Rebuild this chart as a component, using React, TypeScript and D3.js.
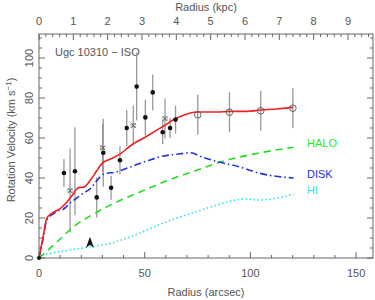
import React, { useEffect, useRef } from 'react';
import * as d3 from 'd3';

// model curves, [radius arcsec, velocity km/s]
const totalCurve = [[0,0],[2,11],[3.6,19.7],[5,21.5],[6.8,22.9],[9.9,24.6],[13.1,27.9],[16.2,32],[17.8,34.5],[19.4,35.3],[21,35.4],[24.1,38.6],[27.3,43.6],[29.7,47.2],[33.6,49.4],[38.3,51.9],[43.1,56],[51,60.9],[58.8,65.9],[65.2,70],[71.5,72.5],[74.6,73],[84.1,73],[90.4,73.3],[98.3,73.3],[104.9,74],[112.5,74.5],[120.1,75.3]];
const diskCurve = [[0,0],[2,10],[3.6,18.8],[6.8,22.1],[9.9,24],[11.5,24.4],[14.7,27.5],[16.2,28.7],[19.4,31.2],[21,32.5],[24.1,34.5],[27.3,38.6],[30.4,41.9],[36.8,43.1],[43.1,45.5],[51,48.5],[58.8,51],[65.2,51.9],[71.5,52.6],[77.8,50.2],[83.3,48.5],[95,45.5],[104.6,42.3],[120.4,40]];
const haloCurve = [[0,0],[5.2,4.8],[10,9.5],[16.2,15.5],[27.3,22.9],[38.3,28.7],[49.4,33.7],[60.4,38.6],[75,44],[88.8,48.9],[104.6,52.6],[120.4,55.4]];
const hiCurve = [[0,0],[2,1.5],[5.2,2.3],[14.7,4],[24.1,5.6],[33.6,7.3],[43.1,10.5],[52.5,14.7],[62,18.8],[71.5,22.1],[80.9,25.4],[90.4,28.3],[97,29.5],[104.6,29],[110,29.5],[120.4,32]];

// observed points [radius, velocity, error]
const filledPts = [[11.8,42.5,7],[17,43.4,22],[27.3,30.3,10],[30.4,52.6,17],[34.1,35.1,6],[38.3,48.9,7],[41.5,65,9],[46.2,85.7,17],[50.3,70.3,9],[53.8,82.8,9],[58.5,62.9,6],[62,65,5],[64.6,69.2,7]];
const crossPts = [[14.7,33.7,21],[30.1,55.1,12],[44.6,66.3,10],[59.6,69.7,10]];
const openPts = [[75.1,71.6,10],[90.1,72.9,10],[104.9,73.6,10],[120.1,74.9,10]];

const arcTicks = [0, 50, 100, 150];
const kpcTicks = [0, 1, 2, 3, 4, 5, 6, 7, 8, 9];
const velTicks = [0, 20, 40, 60, 80, 100];
const arrowAt = 24.1;

const App = () => {
    const ref = useRef(null);

    const graph = () => {
        const svgCanvas = d3.select(ref.current);
        svgCanvas.selectAll('*').remove();

        const left = 39, right = 373, top = 34, bottom = 258;
        const x = d3.scaleLinear().domain([0, 158]).range([left, right]);
        const k = d3.scaleLinear().domain([0, (right - left) / 34.33]).range([left, right]);
        const y = d3.scaleLinear().domain([0, 112]).range([bottom, top]);
        const font = "'Liberation Sans', Arial, sans-serif";
        const axisCol = '#666';
        const txtCol = '#555';

        // frame
        svgCanvas.append('rect')
            .attr('x', left).attr('y', top)
            .attr('width', right - left).attr('height', bottom - top)
            .attr('fill', 'none').attr('stroke', axisCol).attr('stroke-width', 1);

        const g = svgCanvas.append('g').attr('stroke', axisCol).attr('stroke-width', 1);
        // bottom ticks
        d3.range(0, 158, 10).forEach(v => {
            const len = v % 50 === 0 ? 6 : 3;
            g.append('line').attr('x1', x(v)).attr('x2', x(v)).attr('y1', bottom).attr('y2', bottom - len);
        });
        // top ticks (kpc)
        d3.range(0, 9.8, 0.2).forEach(v => {
            const major = Math.abs(v - Math.round(v)) < 0.01;
            g.append('line').attr('x1', k(v)).attr('x2', k(v)).attr('y1', top).attr('y2', top + (major ? 6 : 3));
        });
        // left / right ticks
        d3.range(0, 112, 5).forEach(v => {
            const len = v % 20 === 0 ? 6 : 3;
            g.append('line').attr('x1', left).attr('x2', left + len).attr('y1', y(v)).attr('y2', y(v));
            g.append('line').attr('x1', right).attr('x2', right - len).attr('y1', y(v)).attr('y2', y(v));
        });

        const txt = svgCanvas.append('g')
            .style('font-family', font).style('font-size', '11px').style('fill', txtCol);

        txt.selectAll('text.xt').data(arcTicks).enter().append('text')
            .attr('x', d => x(d)).attr('y', 277).attr('text-anchor', 'middle').text(d => d);
        txt.selectAll('text.kt').data(kpcTicks).enter().append('text')
            .attr('x', d => k(d)).attr('y', 25).attr('text-anchor', 'middle').text(d => d);
        txt.selectAll('text.yt').data(velTicks).enter().append('text')
            .attr('transform', d => `translate(33,${y(d)}) rotate(-90)`)
            .attr('text-anchor', 'middle').text(d => d);

        txt.append('text').attr('x', 206).attr('y', 296).attr('text-anchor', 'middle').text('Radius (arcsec)');
        txt.append('text').attr('x', 206).attr('y', 11).attr('text-anchor', 'middle').text('Radius (kpc)');
        const yl = txt.append('text').attr('transform', 'translate(15,140) rotate(-90)').attr('text-anchor', 'middle');
        yl.append('tspan').text('Rotation Velocity (km s');
        yl.append('tspan').attr('dy', -4).style('font-size', '8px').text('−1');
        yl.append('tspan').attr('dy', 4).text(')');
        txt.append('text').attr('x', 55).attr('y', 56).text('Ugc 10310 − ISO');

        // error bars
        const allPts = filledPts.concat(crossPts, openPts);
        svgCanvas.append('g').selectAll('line').data(allPts).enter().append('line')
            .attr('x1', d => x(d[0])).attr('x2', d => x(d[0]))
            .attr('y1', d => y(d[1] - d[2])).attr('y2', d => y(d[1] + d[2]))
            .attr('stroke', '#999').attr('stroke-width', 1.3);

        // model curves
        const line = d3.line().x(d => x(d[0])).y(d => y(d[1])).curve(d3.curveMonotoneX);
        const curves = [
            { data: hiCurve, color: '#33e0e8', dash: '1.5,2.5', w: 1.6 },
            { data: haloCurve, color: '#22dd22', dash: '7,5', w: 1.6 },
            { data: diskCurve, color: '#2233dd', dash: '7,3,1.5,3', w: 1.6 },
            { data: totalCurve, color: '#ee2222', dash: null, w: 1.6 },
        ];
        curves.forEach(c => {
            svgCanvas.append('path').attr('d', line(c.data))
                .attr('fill', 'none').attr('stroke', c.color).attr('stroke-width', c.w)
                .attr('stroke-dasharray', c.dash);
        });

        // points
        svgCanvas.append('g').selectAll('circle').data(filledPts).enter().append('circle')
            .attr('cx', d => x(d[0])).attr('cy', d => y(d[1])).attr('r', 2.3).attr('fill', '#111');
        svgCanvas.append('g').selectAll('circle').data(openPts).enter().append('circle')
            .attr('cx', d => x(d[0])).attr('cy', d => y(d[1])).attr('r', 3.3)
            .attr('fill', 'none').attr('stroke', '#555').attr('stroke-width', 0.9);
        const cr = svgCanvas.append('g').attr('stroke', '#444').attr('stroke-width', 0.9);
        crossPts.forEach(d => {
            const cx = x(d[0]), cy = y(d[1]);
            cr.append('circle').attr('cx', cx).attr('cy', cy).attr('r', 2.5).attr('fill', 'none').attr('stroke', '#aaa');
            cr.append('line').attr('x1', cx - 2.2).attr('x2', cx + 2.2).attr('y1', cy - 2.2).attr('y2', cy + 2.2);
            cr.append('line').attr('x1', cx - 2.2).attr('x2', cx + 2.2).attr('y1', cy + 2.2).attr('y2', cy - 2.2);
        });

        // origin dot
        svgCanvas.append('circle').attr('cx', x(0)).attr('cy', y(0)).attr('r', 2).attr('fill', '#111');

        // arrow marker
        const ax = x(arrowAt);
        svgCanvas.append('path')
            .attr('d', `M${ax},${y(10.6)} L${ax + 4},${y(5)} L${ax},${y(6.6)} L${ax - 4},${y(5)} Z`)
            .attr('fill', '#111');

        // curve labels
        const lab = svgCanvas.append('g').style('font-family', font).style('font-size', '11px');
        lab.append('text').attr('x', 307).attr('y', 147).style('fill', '#22ee22').text('HALO');
        lab.append('text').attr('x', 307).attr('y', 178).style('fill', '#2233dd').text('DISK');
        lab.append('text').attr('x', 307).attr('y', 194).style('fill', '#33e0e8').text('HI');
    };

    useEffect(() => graph());
    return (
        <svg ref={ref} width="375" height="300" style={{ position: 'absolute', left: 0, top: 0, background: '#fff' }}></svg>
    );
};

export default App;
